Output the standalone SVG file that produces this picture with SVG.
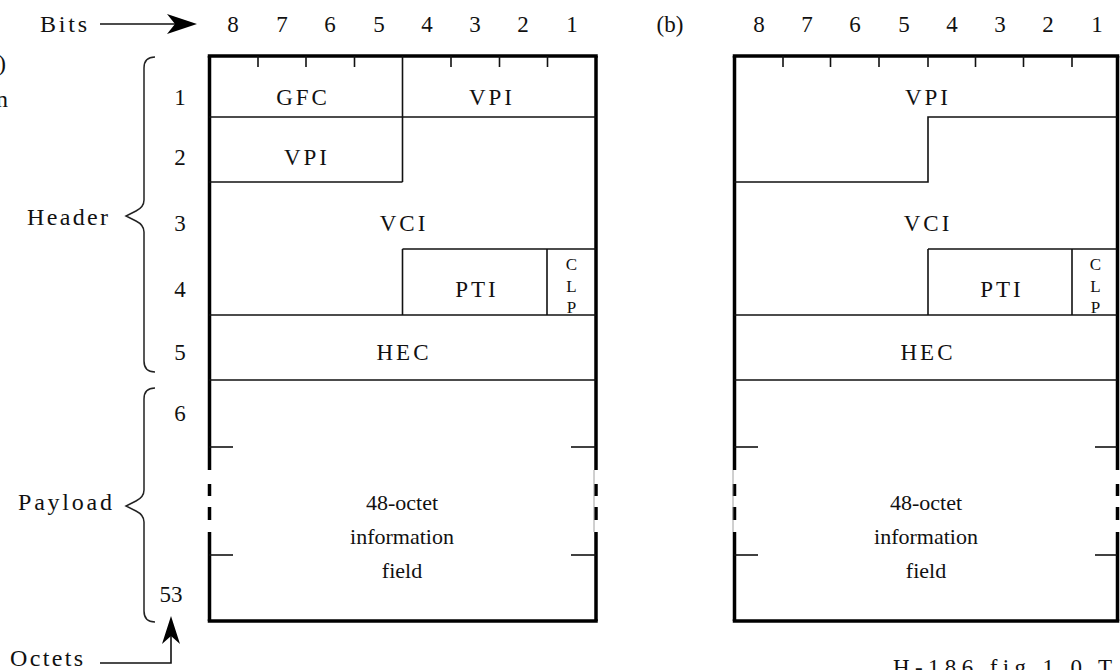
<svg xmlns="http://www.w3.org/2000/svg" width="1120" height="670" viewBox="0 0 1120 670">
  <style>
    .frame { stroke: #000; stroke-width: 3.5; fill: none; stroke-linecap: butt; }
    .rule { stroke: #111; stroke-width: 1.6; fill: none; }
    .thin { stroke: #888; stroke-width: 0.8; fill: none; }
    .tick { stroke: #111; stroke-width: 1.6; }
    .brace { stroke: #222; stroke-width: 1.5; fill: none; }
    text { font-family: "Liberation Serif", "Times New Roman", serif; fill: #111; }
    .lbl { font-size: 22px; text-anchor: middle; }
    .cap { font-size: 23px; text-anchor: middle; letter-spacing: 3px; }
    .num { font-size: 23px; text-anchor: middle; }
    .side { font-size: 24px; text-anchor: end; }
    .clp { font-size: 17px; text-anchor: middle; }
  </style>

  <!-- clipped fragments at the page edges -->
  <g id="edge-text">
    <text class="side" x="6" y="71">(a)</text>
    <text class="side" x="8" y="107">n</text>
    <text x="893" y="675" style="font-size:23px" textLength="219" lengthAdjust="spacing">H-186 fig 1.0 T</text>
  </g>

  <!-- bit numbering across the top -->
  <g id="bits-axis">
    <text x="40" y="32" style="font-size:24px" textLength="47" lengthAdjust="spacing">Bits</text>
    <text class="num" x="233" y="32">8</text>
    <text class="num" x="282" y="32">7</text>
    <text class="num" x="330" y="32">6</text>
    <text class="num" x="379" y="32">5</text>
    <text class="num" x="427" y="32">4</text>
    <text class="num" x="475" y="32">3</text>
    <text class="num" x="523" y="32">2</text>
    <text class="num" x="572" y="32">1</text>
    <text class="num" x="670" y="32">(b)</text>
    <text class="num" x="759" y="32">8</text>
    <text class="num" x="807" y="32">7</text>
    <text class="num" x="855" y="32">6</text>
    <text class="num" x="904" y="32">5</text>
    <text class="num" x="952" y="32">4</text>
    <text class="num" x="1000" y="32">3</text>
    <text class="num" x="1048" y="32">2</text>
    <text class="num" x="1097" y="32">1</text>
  </g>

  <!-- octet numbering, braces and side labels -->
  <g id="octet-axis">
    <text class="num" x="180" y="105">1</text>
    <text class="num" x="180" y="165">2</text>
    <text class="num" x="180" y="231">3</text>
    <text class="num" x="180" y="297">4</text>
    <text class="num" x="180" y="360">5</text>
    <text class="num" x="180" y="421">6</text>
    <text class="num" x="171" y="602">53</text>
    <path class="brace" d="M155,57 Q144,57 144,68 L144,200 Q144,207 136,211 L126,216 L136,221 Q144,225 144,232 L144,361 Q144,372 155,372"/>
    <path class="brace" d="M155,388 Q144,388 144,399 L144,490 Q144,497 136,501 L126,506 L136,511 Q144,515 144,522 L144,611 Q144,622 155,622"/>
    <text class="side" x="108" y="225" textLength="81" lengthAdjust="spacing">Header</text>
    <text class="side" x="112" y="510" textLength="94" lengthAdjust="spacing">Payload</text>
    <text x="10" y="666" style="font-size:24px" textLength="73" lengthAdjust="spacing">Octets</text>
  </g>

  <!-- pointer arrows -->
  <g id="connectors">
    <line class="rule" x1="100" y1="24" x2="176" y2="24"/>
    <polygon points="197,24 167,14 175,24 167,34" fill="#000"/>
    <polyline class="rule" points="100,663 171,663 171,634"/>
    <polygon points="171,616 162,644 171,636 180,644" fill="#000"/>
  </g>

  <!-- (a) cell layout with GFC field -->
  <g id="cell-a">
    <line class="frame" x1="207.75" y1="56" x2="597.75" y2="56"/>
    <line class="frame" x1="207.75" y1="621" x2="597.75" y2="621"/>
    <path class="frame" d="M209.5,56 V470 M209.5,484 V496 M209.5,507 V520 M209.5,532 V621"/>
    <path class="frame" d="M596,56 V470 M596,484 V496 M596,507 V520 M596,532 V621"/>
    <line class="thin" x1="594" y1="470" x2="594" y2="532"/>
    <g class="tick">
      <line x1="258" y1="56" x2="258" y2="67"/>
      <line x1="306" y1="56" x2="306" y2="67"/>
      <line x1="354.5" y1="56" x2="354.5" y2="67"/>
      <line x1="451" y1="56" x2="451" y2="67"/>
      <line x1="499.5" y1="56" x2="499.5" y2="67"/>
      <line x1="547.5" y1="56" x2="547.5" y2="67"/>
      <line x1="209" y1="447" x2="233" y2="447"/>
      <line x1="209" y1="555" x2="233" y2="555"/>
      <line x1="571" y1="447" x2="596" y2="447"/>
      <line x1="571" y1="555" x2="596" y2="555"/>
    </g>
    <line class="rule" x1="209" y1="117" x2="596" y2="117"/>
    <line class="rule" x1="402.5" y1="56" x2="402.5" y2="182"/>
    <line class="rule" x1="209" y1="182" x2="402.5" y2="182"/>
    <line class="rule" x1="402.5" y1="249" x2="596" y2="249"/>
    <line class="rule" x1="402.5" y1="249" x2="402.5" y2="315"/>
    <line class="rule" x1="547" y1="249" x2="547" y2="315"/>
    <line class="rule" x1="209" y1="315" x2="596" y2="315"/>
    <line class="rule" x1="209" y1="380" x2="596" y2="380"/>
    <text class="cap" x="303" y="105">GFC</text>
    <text class="cap" x="492" y="105">VPI</text>
    <text class="cap" x="307" y="165">VPI</text>
    <text class="cap" x="404" y="231">VCI</text>
    <text class="cap" x="477" y="297">PTI</text>
    <text class="clp" x="571.5" y="270">C</text>
    <text class="clp" x="571.5" y="292">L</text>
    <text class="clp" x="571.5" y="313">P</text>
    <text class="cap" x="404" y="360">HEC</text>
    <text class="lbl" x="402" y="510">48-octet</text>
    <text class="lbl" x="402" y="544">information</text>
    <text class="lbl" x="402" y="578">field</text>
  </g>

  <!-- (b) cell layout with wider VPI field -->
  <g id="cell-b">
    <line class="frame" x1="732.75" y1="56" x2="1119.25" y2="56"/>
    <line class="frame" x1="732.75" y1="621" x2="1119.25" y2="621"/>
    <path class="frame" d="M734.5,56 V470 M734.5,484 V496 M734.5,507 V520 M734.5,532 V621"/>
    <path class="frame" d="M1117.5,56 V470 M1117.5,484 V496 M1117.5,507 V520 M1117.5,532 V621"/>
    <line class="thin" x1="733" y1="470" x2="733" y2="532"/>
    <g class="tick">
      <line x1="783" y1="56" x2="783" y2="67"/>
      <line x1="830.5" y1="56" x2="830.5" y2="67"/>
      <line x1="879" y1="56" x2="879" y2="67"/>
      <line x1="928" y1="56" x2="928" y2="67"/>
      <line x1="975.5" y1="56" x2="975.5" y2="67"/>
      <line x1="1023.5" y1="56" x2="1023.5" y2="67"/>
      <line x1="1072" y1="56" x2="1072" y2="67"/>
      <line x1="734" y1="447" x2="758" y2="447"/>
      <line x1="734" y1="555" x2="758" y2="555"/>
      <line x1="1095" y1="447" x2="1117" y2="447"/>
      <line x1="1095" y1="555" x2="1117" y2="555"/>
    </g>
    <polyline class="rule" points="734,182 928,182 928,117 1117,117"/>
    <line class="rule" x1="928" y1="249" x2="1117" y2="249"/>
    <line class="rule" x1="928" y1="249" x2="928" y2="315"/>
    <line class="rule" x1="1072" y1="249" x2="1072" y2="315"/>
    <line class="rule" x1="734" y1="315" x2="1117" y2="315"/>
    <line class="rule" x1="734" y1="380" x2="1117" y2="380"/>
    <text class="cap" x="928" y="105">VPI</text>
    <text class="cap" x="928" y="231">VCI</text>
    <text class="cap" x="1002" y="297">PTI</text>
    <text class="clp" x="1095.5" y="270">C</text>
    <text class="clp" x="1095.5" y="292">L</text>
    <text class="clp" x="1095.5" y="313">P</text>
    <text class="cap" x="928" y="360">HEC</text>
    <text class="lbl" x="926" y="510">48-octet</text>
    <text class="lbl" x="926" y="544">information</text>
    <text class="lbl" x="926" y="578">field</text>
  </g>
</svg>
